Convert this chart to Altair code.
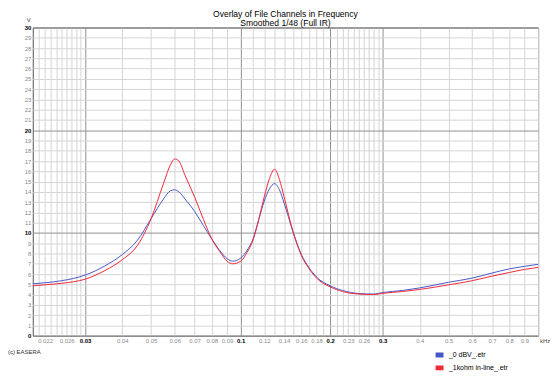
import altair as alt
import pandas as pd

# ---- data ----
freq = [0.02, 0.022, 0.025, 0.03, 0.035, 0.04, 0.045, 0.05, 0.055, 0.058,
        0.06, 0.062, 0.065, 0.07, 0.075, 0.08, 0.085, 0.09, 0.094, 0.1,
        0.105, 0.11, 0.115, 0.12, 0.125, 0.13, 0.135, 0.14, 0.15, 0.16,
        0.17, 0.18, 0.2, 0.22, 0.25, 0.28, 0.3, 0.35, 0.4, 0.5,
        0.6, 0.7, 0.8, 0.9, 1.0]
blue_v = [5.05, 5.15, 5.35, 5.9, 6.8, 7.9, 9.3, 11.4, 13.3, 14.1,
          14.2, 14.0, 13.3, 12.1, 10.7, 9.4, 8.3, 7.5, 7.25, 7.55,
          8.3, 9.4, 11.3, 13.1, 14.3, 14.8, 14.2, 12.9, 10.1, 7.9,
          6.6, 5.7, 4.85, 4.4, 4.1, 4.05, 4.2, 4.4, 4.65, 5.2,
          5.6, 6.1, 6.5, 6.75, 6.95]
red_v = [4.85, 4.95, 5.1, 5.5, 6.35, 7.4, 8.8, 11.4, 14.8, 16.6,
         17.2, 17.0, 15.6, 13.5, 11.3, 9.4, 8.2, 7.25, 7.0, 7.25,
         8.1, 9.3, 11.3, 13.5, 15.3, 16.2, 15.2, 13.5, 10.1, 7.8,
         6.5, 5.6, 4.75, 4.3, 4.05, 4.0, 4.12, 4.3, 4.5, 4.95,
         5.35, 5.8, 6.15, 6.45, 6.65]
series_names = ["_0 dBV_.etr", "_1kohm in-line_.etr"]
series_colors = ["#4858c8", "#f02838"]

title_text = "Overlay of File Channels in Frequency"
subtitle_text = "Smoothed 1/48 (Full IR)"

x_grid = [0.021, 0.022, 0.023, 0.024, 0.025, 0.026, 0.027, 0.028, 0.029,
          0.03, 0.04, 0.05, 0.06, 0.07, 0.08, 0.09,
          0.1, 0.11, 0.12, 0.13, 0.14, 0.15, 0.16, 0.17, 0.18, 0.19,
          0.2, 0.21, 0.22, 0.23, 0.24, 0.25, 0.26, 0.27, 0.28, 0.29,
          0.3, 0.4, 0.5, 0.6, 0.7, 0.8, 0.9, 1.0]
x_labels = [0.022, 0.026, 0.03, 0.04, 0.05, 0.06, 0.07, 0.08, 0.09, 0.1,
            0.12, 0.14, 0.16, 0.18, 0.2, 0.23, 0.26, 0.3,
            0.4, 0.5, 0.6, 0.7, 0.8, 0.9]
x_major = [0.03, 0.1, 0.2, 0.3]
y_ticks = [0, 1, 2, 3, 4, 5, 6, 7, 8, 9, 10, 11, 12, 13, 14, 15, 16, 17, 18,
           19, 20, 21, 22, 23, 24, 25, 26, 27, 28, 29, 30]

df = pd.DataFrame({
    "f": freq * 2,
    "v": blue_v + red_v,
    "s": [series_names[0]] * len(freq) + [series_names[1]] * len(freq),
})

FONT = "Liberation Sans"
lab_list = "[" + ",".join(str(v) for v in x_labels) + "]"
maj_list = "[" + ",".join(str(v) for v in x_major) + "]"
x_major_test = f"indexof({maj_list}, datum.value) >= 0"
y_major_test = "datum.value % 10 === 0"

x_axis = alt.Axis(
    values=x_grid,
    labelExpr=f"indexof({lab_list}, datum.value) >= 0 ? format(datum.value, '.3~f') : ''",
    title=None, grid=True, ticks=False, domain=False,
    gridColor={"condition": {"test": x_major_test, "value": "#909090"}, "value": "#d4d4d4"},
    labelColor={"condition": {"test": x_major_test, "value": "#000000"}, "value": "#8a8a8a"},
    labelFontWeight={"condition": {"test": x_major_test, "value": "bold"}, "value": "normal"},
    labelFontSize=6, labelFont=FONT, labelPadding=2,
    labelOverlap=False, labelFlush=False,
)
y_axis = alt.Axis(
    values=y_ticks, title=None, grid=True, ticks=False, domain=False,
    gridColor={"condition": {"test": y_major_test, "value": "#909090"}, "value": "#d4d4d4"},
    labelColor={"condition": {"test": y_major_test, "value": "#000000"}, "value": "#8a8a8a"},
    labelFontWeight={"condition": {"test": y_major_test, "value": "bold"}, "value": "normal"},
    labelFontSize=6, labelFont=FONT, labelPadding=2,
    labelOverlap=False, labelFlush=False,
)

lines = alt.Chart(df).mark_line(strokeWidth=1, interpolate="monotone").encode(
    x=alt.X("f:Q", scale=alt.Scale(type="log", domain=[0.02, 1.0], nice=False), axis=x_axis),
    y=alt.Y("v:Q", scale=alt.Scale(domain=[0, 30], nice=False), axis=y_axis),
    color=alt.Color(
        "s:N",
        scale=alt.Scale(domain=series_names, range=series_colors),
        legend=alt.Legend(
            orient="none", legendX=404, legendY=325, title=None,
            symbolType="stroke", symbolStrokeWidth=5, symbolSize=64,
            labelFontSize=7, labelFont=FONT, labelColor="#000000",
            rowPadding=2, padding=0, labelOffset=3, clipHeight=11,
        ),
    ),
    detail="s:N",
)

def note(text, x, y, size=6, color="#000000", align="left"):
    return alt.Chart(pd.DataFrame({"t": [text]})).mark_text(
        align=align, baseline="middle", fontSize=size, font=FONT, color=color
    ).encode(text="t:N", x=alt.value(x), y=alt.value(y))

title_mark = note(title_text, 255, -13.5, size=8.6, align="center")
subtitle_mark = note(subtitle_text, 255, -4.5, size=8.6, align="center")
v_label = note("V", -6, -8, size=6, color="#444444")
khz = note("kHz", 512, 316, size=6, color="#444444")
easera = note("(c) EASERA", -25, 327, size=6, color="#333333")

chart = alt.layer(lines, title_mark, subtitle_mark, v_label, khz, easera).properties(
    width=510, height=311,
    padding={"left": 25, "top": 18, "right": 14, "bottom": 38},
    autosize=alt.AutoSizeParams(type="none"),
).configure_view(stroke="#505050", strokeWidth=1)

chart.save("out.html", embed_options={"renderer": "svg", "actions": False})
